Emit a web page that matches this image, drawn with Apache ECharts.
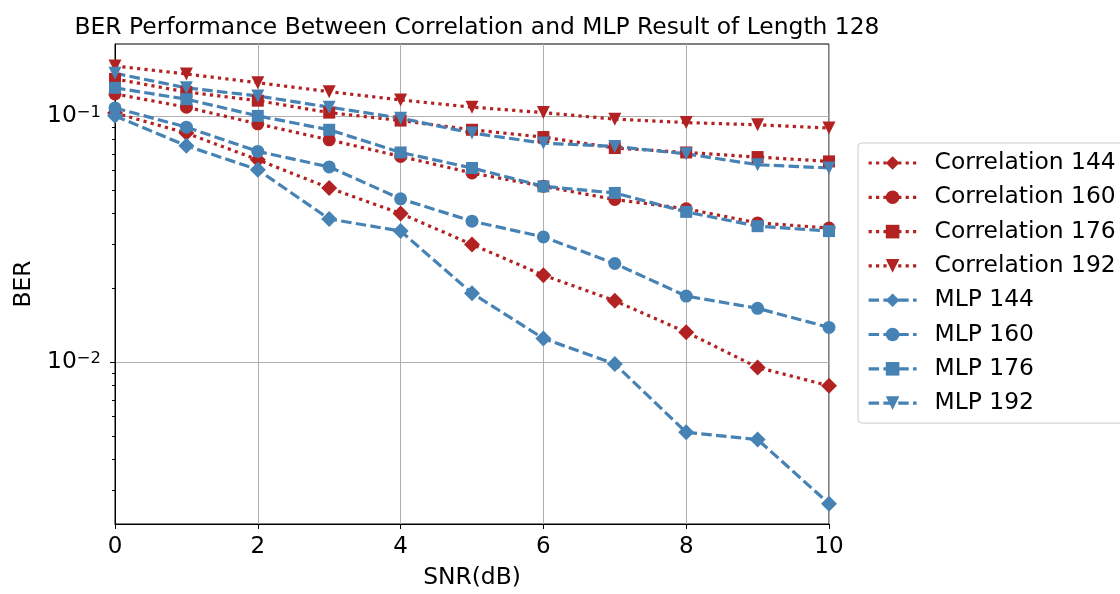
<!DOCTYPE html>
<html>
<head>
<meta charset="utf-8">
<script src="https://cdn.jsdelivr.net/npm/echarts@6/dist/echarts.min.js"></script>
<style>
  html, body { margin: 0; padding: 0; background: #fff; }
  #chart { width: 1120px; height: 594px; }
</style>
</head>
<body>
<div id="chart"></div>
<script>
const snr = [0, 1, 2, 3, 4, 5, 6, 7, 8, 9, 10];
const corr144 = [0.1028, 0.0851, 0.0663, 0.0509, 0.0401, 0.0300, 0.0225, 0.0177, 0.0132, 0.00949, 0.00799];
const corr160 = [0.1228, 0.1085, 0.0928, 0.0799, 0.0684, 0.0586, 0.0517, 0.0457, 0.0419, 0.0367, 0.0350];
const corr176 = [0.1413, 0.1251, 0.1153, 0.1031, 0.0957, 0.0878, 0.0820, 0.0740, 0.0710, 0.0680, 0.0653];
const corr192 = [0.1595, 0.1480, 0.1364, 0.1254, 0.1161, 0.1085, 0.1031, 0.0970, 0.0939, 0.0920, 0.0892];
const mlp144 = [0.1000, 0.0756, 0.0604, 0.0381, 0.0340, 0.0190, 0.01244, 0.00979, 0.00517, 0.00483, 0.00265];
const mlp160 = [0.1077, 0.0900, 0.0717, 0.0620, 0.0460, 0.0373, 0.0322, 0.0251, 0.0185, 0.0165, 0.0138];
const mlp176 = [0.1300, 0.1169, 0.1000, 0.0878, 0.0710, 0.0614, 0.0517, 0.0486, 0.0407, 0.0356, 0.0340];
const mlp192 = [0.1490, 0.1300, 0.1205, 0.1085, 0.0979, 0.0851, 0.0775, 0.0751, 0.0701, 0.0633, 0.0614];

const xTicks = [0, 2, 4, 6, 8, 10];
const yMajorTicks = [0.01, 0.1];
const yMinorTicks = [0.003, 0.004, 0.005, 0.006, 0.007, 0.008, 0.009,
                     0.02, 0.03, 0.04, 0.05, 0.06, 0.07, 0.08, 0.09];

const seriesDefs = [
  { name: 'Correlation 144', data: corr144, kind: 'corr', symbol: 'diamond' },
  { name: 'Correlation 160', data: corr160, kind: 'corr', symbol: 'circle' },
  { name: 'Correlation 176', data: corr176, kind: 'corr', symbol: 'rect' },
  { name: 'Correlation 192', data: corr192, kind: 'corr', symbol: 'triangle' },
  { name: 'MLP 144', data: mlp144, kind: 'mlp', symbol: 'diamond' },
  { name: 'MLP 160', data: mlp160, kind: 'mlp', symbol: 'circle' },
  { name: 'MLP 176', data: mlp176, kind: 'mlp', symbol: 'rect' },
  { name: 'MLP 192', data: mlp192, kind: 'mlp', symbol: 'triangle' }
];

const RED = '#B22222';
const BLUE = '#4682B4';
const FONT = 'DejaVu Sans';
const symSizes = { diamond: 16, circle: 13, rect: 12, triangle: 13 };

const series = seriesDefs.map(d => ({
  name: d.name,
  type: 'line',
  data: snr.map((x, i) => [x, d.data[i]]),
  symbol: d.symbol,
  symbolSize: symSizes[d.symbol],
  symbolRotate: d.symbol === 'triangle' ? 180 : 0,
  showSymbol: true,
  itemStyle: { color: d.kind === 'corr' ? RED : BLUE },
  lineStyle: {
    color: d.kind === 'corr' ? RED : BLUE,
    width: 3.2,
    type: d.kind === 'corr' ? [3.2, 4.2] : [10.5, 4.3],
    cap: 'butt'
  },
  emphasis: { disabled: true },
  animation: false
}));

const yMin = 0.00219, yMax = 0.196;

function fmtPow(v) {
  const l = Math.log10(v);
  const e = Math.round(l);
  if (Math.abs(l - e) > 1e-6) return '';
  return '{b|10}{s|\u2212' + (-e) + '}';
}

const chart = echarts.init(document.getElementById('chart'), null, { renderer: 'canvas' });
chart.setOption({
  backgroundColor: '#fff',
  animation: false,
  title: {
    text: 'BER Performance Between Correlation and MLP Result of Length 128',
    left: 472,
    top: 11,
    textAlign: 'center',
    textStyle: { fontFamily: FONT, fontSize: 23.4, fontWeight: 'normal', color: '#000' }
  },
  grid: {
    left: 115, right: 291, top: 44, bottom: 68.5,
    show: true, borderColor: '#000', borderWidth: 1, backgroundColor: 'transparent'
  },
  legend: {
    orient: 'vertical',
    left: 858,
    top: 143,
    padding: [8, 30, 8, 9],
    itemWidth: 48,
    itemHeight: 17,
    itemGap: 10.3,
    backgroundColor: '#fff',
    borderColor: '#cccccc',
    borderWidth: 1,
    borderRadius: 4,
    lineStyle: { width: 3.2 },
    textStyle: { fontFamily: FONT, fontSize: 23.4, color: '#000', lineHeight: 24, padding: [0, 0, 0, 13] },
    data: seriesDefs.map(d => d.name)
  },
  xAxis: {
    type: 'value',
    min: 0, max: 10, interval: 2,
    name: 'SNR(dB)',
    nameLocation: 'middle',
    nameGap: 42,
    nameTextStyle: { fontFamily: FONT, fontSize: 23.4, color: '#000' },
    axisLine: { show: true, lineStyle: { color: '#000', width: 1 } },
    axisTick: { show: true, length: 5, lineStyle: { color: '#000' } },
    axisLabel: {
      fontFamily: FONT, fontSize: 23, color: '#000', margin: 12,
      customValues: xTicks
    },
    splitLine: { show: true, lineStyle: { color: '#b0b0b0', width: 1 } }
  },
  yAxis: [
    {
      type: 'log',
      logBase: 10,
      min: yMin, max: yMax,
      name: 'BER',
      nameLocation: 'middle',
      nameGap: 80,
      nameTextStyle: { fontFamily: FONT, fontSize: 23.4, color: '#000' },
      axisLine: { show: true, lineStyle: { color: '#000', width: 1 } },
      axisTick: { show: true, length: 5, lineStyle: { color: '#000' }, customValues: yMajorTicks },
      axisLabel: {
        margin: 14,
        customValues: yMajorTicks,
        formatter: fmtPow,
        rich: {
          b: { fontFamily: FONT, fontSize: 23.4, color: '#000' },
          s: { fontFamily: FONT, fontSize: 16.4, color: '#000', verticalAlign: 'top', padding: [0, 0, 6, 0] }
        }
      },
      splitLine: { show: true, lineStyle: { color: '#b0b0b0', width: 1 } }
    },
    {
      type: 'log',
      logBase: 10,
      min: yMin, max: yMax,
      position: 'left',
      axisLine: { show: false },
      axisTick: { show: true, length: 3, lineStyle: { color: '#000' }, customValues: yMinorTicks },
      axisLabel: { show: false },
      splitLine: { show: false }
    }
  ],
  series: series
});
</script>
</body>
</html>
